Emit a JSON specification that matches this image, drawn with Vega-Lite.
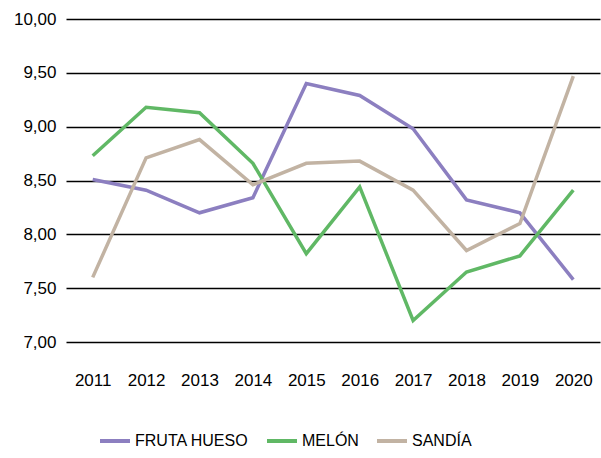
{
  "$schema": "https://vega.github.io/schema/vega-lite/v6.json",
  "width": 534,
  "height": 323,
  "autosize": {"type": "none"},
  "padding": {"left": 66, "top": 19, "right": 1, "bottom": 116},
  "background": "white",
  "config": {
    "view": {"stroke": null},
    "font": "Liberation Sans",
    "axis": {"labelFont": "Liberation Sans", "labelFontSize": 17, "labelColor": "#000"},
    "legend": {"labelFont": "Liberation Sans", "labelFontSize": 16, "labelColor": "#000"}
  },
  "data": {
    "values": [
      {"year": "2011", "serie": "FRUTA HUESO", "value": 8.51},
      {"year": "2012", "serie": "FRUTA HUESO", "value": 8.41},
      {"year": "2013", "serie": "FRUTA HUESO", "value": 8.20},
      {"year": "2014", "serie": "FRUTA HUESO", "value": 8.34},
      {"year": "2015", "serie": "FRUTA HUESO", "value": 9.40},
      {"year": "2016", "serie": "FRUTA HUESO", "value": 9.29},
      {"year": "2017", "serie": "FRUTA HUESO", "value": 8.98},
      {"year": "2018", "serie": "FRUTA HUESO", "value": 8.32},
      {"year": "2019", "serie": "FRUTA HUESO", "value": 8.20},
      {"year": "2020", "serie": "FRUTA HUESO", "value": 7.58},
      {"year": "2011", "serie": "MELÓN", "value": 8.73},
      {"year": "2012", "serie": "MELÓN", "value": 9.18},
      {"year": "2013", "serie": "MELÓN", "value": 9.13},
      {"year": "2014", "serie": "MELÓN", "value": 8.66},
      {"year": "2015", "serie": "MELÓN", "value": 7.82},
      {"year": "2016", "serie": "MELÓN", "value": 8.44},
      {"year": "2017", "serie": "MELÓN", "value": 7.20},
      {"year": "2018", "serie": "MELÓN", "value": 7.65},
      {"year": "2019", "serie": "MELÓN", "value": 7.80},
      {"year": "2020", "serie": "MELÓN", "value": 8.41},
      {"year": "2011", "serie": "SANDÍA", "value": 7.60},
      {"year": "2012", "serie": "SANDÍA", "value": 8.71},
      {"year": "2013", "serie": "SANDÍA", "value": 8.88},
      {"year": "2014", "serie": "SANDÍA", "value": 8.46},
      {"year": "2015", "serie": "SANDÍA", "value": 8.66},
      {"year": "2016", "serie": "SANDÍA", "value": 8.68},
      {"year": "2017", "serie": "SANDÍA", "value": 8.41},
      {"year": "2018", "serie": "SANDÍA", "value": 7.85},
      {"year": "2019", "serie": "SANDÍA", "value": 8.10},
      {"year": "2020", "serie": "SANDÍA", "value": 9.47}
    ]
  },
  "mark": {"type": "line", "strokeWidth": 3.5, "strokeJoin": "miter"},
  "encoding": {
    "x": {
      "field": "year", "type": "ordinal", "title": null,
      "scale": {"type": "point", "padding": 0.5},
      "axis": {"labelAngle": 0, "ticks": false, "domain": false, "grid": false, "labelPadding": 30}
    },
    "y": {
      "field": "value", "type": "quantitative", "title": null,
      "scale": {"domain": [7, 10], "nice": false, "zero": false},
      "axis": {
        "values": [7, 7.5, 8, 8.5, 9, 9.5, 10],
        "labelExpr": "replace(format(datum.value, '.2f'), '.', ',')",
        "ticks": false, "domain": false,
        "grid": true, "gridColor": "#000", "gridWidth": 1.3, "gridOpacity": 1,
        "labelPadding": 10
      }
    },
    "color": {
      "field": "serie", "type": "nominal", "title": null,
      "scale": {"domain": ["FRUTA HUESO", "MELÓN", "SANDÍA"], "range": ["#8c7fc0", "#60b865", "#c2b3a3"]},
      "legend": {
        "orient": "none", "legendX": 32, "legendY": 405, "direction": "horizontal",
        "symbolType": "stroke", "symbolSize": 900, "symbolStrokeWidth": 4,
        "labelOffset": 3, "columnPadding": 10
      }
    }
  }
}
